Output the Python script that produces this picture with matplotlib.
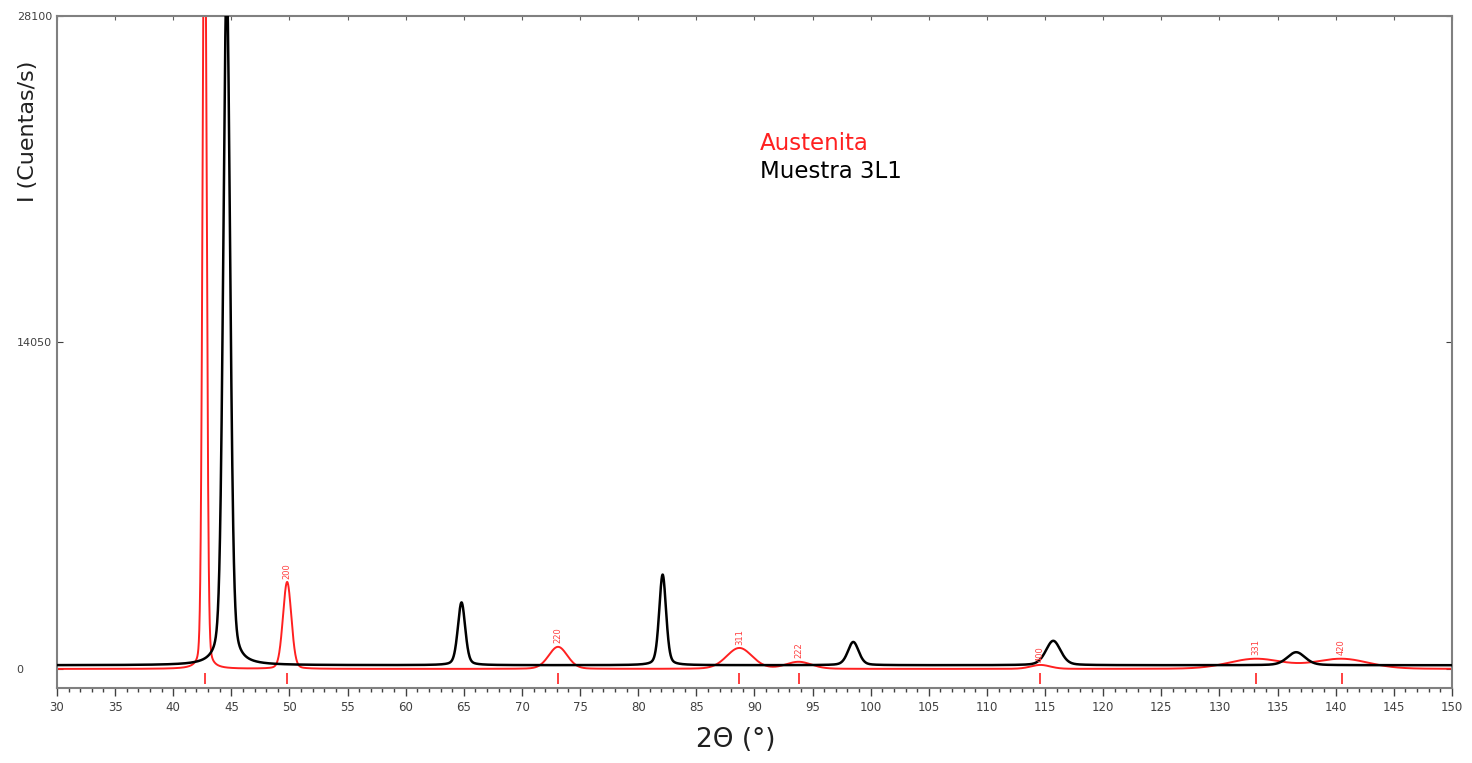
import numpy as np
import matplotlib.pyplot as plt
from matplotlib.ticker import MultipleLocator

# Austenite reference reflections (position 2theta, intensity, FWHM, hkl)
aus_pos = [42.7, 49.8, 73.1, 88.7, 93.8, 114.6, 133.1, 140.5]
aus_int = [36000, 3740, 950, 900, 300, 170, 430, 430]
aus_fwhm = [0.4, 0.85, 1.9, 2.6, 2.6, 2.0, 5.5, 5.5]
aus_hkl = ["111", "200", "220", "311", "222", "400", "331", "420"]

# Muestra 3L1 measured peaks
m_pos = [44.6, 64.8, 82.1, 98.5, 115.7, 136.6]
m_int = [29500, 2700, 3900, 1000, 1050, 560]
m_fwhm = [0.7, 0.75, 0.7, 1.1, 1.5, 1.8]
m_background = 160

y_ticks = [0, 14050, 28100]


def pseudo_voigt(x, pos, height, fwhm, eta=0.5):
    s = fwhm / 2.3548
    g = np.exp(-0.5 * ((x - pos) / s) ** 2)
    l = 1.0 / (1.0 + ((x - pos) / (fwhm / 2)) ** 2)
    return height * (eta * l + (1 - eta) * g)


def pattern(x, positions, heights, widths, eta):
    y = np.zeros_like(x)
    for p, h, w in zip(positions, heights, widths):
        y += pseudo_voigt(x, p, h, w, eta)
    return y


x = np.linspace(30, 150, 6000)
y_aus = pattern(x, aus_pos, aus_int, aus_fwhm, 0.15)
y_m = m_background + pattern(x, m_pos, m_int, m_fwhm, 0.3)

fig = plt.figure(figsize=(14.72, 7.63), dpi=100)
ax = fig.add_axes([0.0387, 0.0983, 0.9477, 0.8807])

ax.plot(x, y_aus, color="#ff2020", lw=1.4, zorder=2)
ax.plot(x, y_m, color="black", lw=1.8, zorder=3)

# reflection markers below the baseline
ax.vlines(aus_pos, -640, -180, color="#ff2020", lw=1.2)

for p, h, lab in zip(aus_pos[1:], aus_int[1:], aus_hkl[1:]):
    ax.text(p, h + 150, lab, color="#ff4040", fontsize=6, rotation=90,
            ha="center", va="bottom")

ax.set_xlim(30, 150)
ax.set_ylim(-820, 28100)
ax.xaxis.set_major_locator(MultipleLocator(5))
ax.xaxis.set_minor_locator(MultipleLocator(1))
ax.set_yticks(y_ticks)
ax.set_yticklabels([str(v) for v in y_ticks], ha="left")
ax.tick_params(axis="x", which="major", direction="out", length=6,
               labelsize=8.5, colors="#404040", width=1)
ax.tick_params(axis="x", which="minor", direction="out", length=3,
               colors="#404040", width=1)
ax.tick_params(axis="y", direction="in", length=4, right=True,
               labelsize=8, colors="#404040", pad=29)

top = ax.secondary_xaxis("top")
top.xaxis.set_major_locator(MultipleLocator(5))
top.tick_params(direction="in", length=3, labeltop=False, colors="#606060")
for sp in top.spines.values():
    sp.set_visible(False)

for sp in ax.spines.values():
    sp.set_color("#808080")
    sp.set_linewidth(1.5)

fig.text(0.5, 0.03, "2Θ (°)", fontsize=19, ha="center", va="center",
         color="#202020")
fig.text(0.019, 0.828, "I (Cuentas/s)", fontsize=16, rotation=90,
         ha="center", va="center", color="#202020")

ax.text(0.504, 0.811, "Austenita", transform=ax.transAxes,
        color="#ff2020", fontsize=16.5, va="center")
ax.text(0.504, 0.768, "Muestra 3L1", transform=ax.transAxes,
        color="black", fontsize=16.5, va="center")

fig.savefig("out.png", dpi=100)
